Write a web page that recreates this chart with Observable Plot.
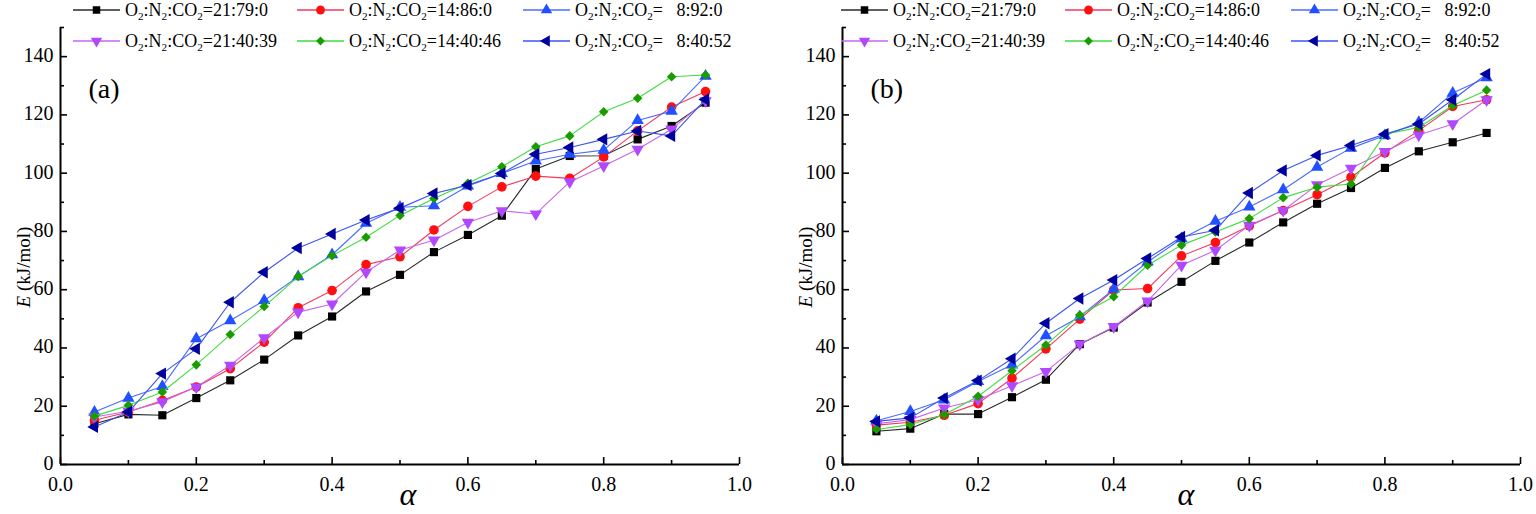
<!DOCTYPE html>
<html>
<head>
<meta charset="utf-8">
<script src="https://cdn.jsdelivr.net/npm/d3@7"></script>
<script src="https://cdn.jsdelivr.net/npm/@observablehq/plot@0.6"></script>
<style>
  html, body { margin: 0; padding: 0; background: #fff; }
  #root { position: relative; width: 1536px; height: 514px; overflow: hidden; font-family: "Liberation Serif", "Times New Roman", serif; }
  .panel { position: absolute; top: 0; }
  .panel svg text { font-family: "Liberation Serif", "Times New Roman", serif; }
  .leg { position: absolute; height: 24px; display: flex; align-items: center; white-space: pre; font-size: 18px; color: #000; line-height: 24px; }
  .leg svg { flex: none; margin-right: 5px; }
  .leg sub { font-size: 0.62em; vertical-align: -0.32em; line-height: 0; }
</style>
</head>
<body>
<div id="root"></div>
<script>
// ---------- data ----------
const alpha = [0.05,0.10,0.15,0.20,0.25,0.30,0.35,0.40,0.45,0.50,0.55,0.60,0.65,0.70,0.75,0.80,0.85,0.90,0.95];

// panel (a)
const a_21_79_0  = [14.0,17.2,16.9,22.8,28.9,36.0,44.3,50.8,59.4,65.1,72.9,78.8,85.4,101.4,105.9,106.0,111.6,116.2,124.2];
const a_14_86_0  = [15.2,18.0,22.0,26.6,32.9,42.0,53.8,59.7,68.6,71.3,80.5,88.6,95.3,99.0,98.2,105.6,114.5,122.7,128.0];
const a_8_92_0   = [18.0,22.8,26.8,43.2,49.4,56.3,64.5,72.0,82.8,88.3,88.8,95.6,99.9,104.2,106.5,107.9,118.1,121.3,133.3];
const a_21_40_39 = [16.3,18.3,21.5,26.6,34.0,43.5,52.3,55.1,66.0,73.6,77.0,83.1,87.1,86.0,97.0,102.5,108.2,115.1,124.8];
const a_14_40_46 = [16.6,20.3,24.9,34.2,44.6,54.2,64.5,71.7,78.0,85.5,91.3,96.5,102.2,109.1,112.8,121.1,125.7,133.1,133.7];
const a_8_40_52  = [12.9,18.0,31.2,39.7,55.7,66.0,74.3,79.1,83.9,88.0,93.0,95.9,99.9,106.5,108.8,111.6,114.5,112.8,125.3];

// panel (b)
const b_21_79_0  = [11.4,12.3,17.3,17.3,23.1,29.1,41.3,47.0,55.6,62.7,69.9,76.2,83.1,89.5,94.9,101.8,107.5,110.6,113.8];
const b_14_86_0  = [13.5,14.5,16.9,20.9,29.6,39.7,49.9,59.9,60.4,71.6,76.2,81.9,87.2,92.6,98.6,107.0,114.6,122.9,125.2];
const b_8_92_0   = [15.0,18.2,22.2,28.5,34.2,44.2,50.7,60.2,69.5,77.5,83.5,88.4,94.3,102.1,108.6,112.9,117.4,127.5,132.8];
const b_21_40_39 = [14.0,15.4,19.4,22.2,27.0,31.9,41.3,47.3,56.1,68.4,73.5,82.1,87.2,96.0,101.7,107.4,113.1,116.9,125.2];
const b_14_40_46 = [12.0,13.7,17.1,23.4,32.2,41.0,51.3,57.6,68.4,75.3,79.8,84.4,91.6,95.2,96.3,113.4,115.7,123.2,128.5];
const b_8_40_52  = [14.8,16.0,22.8,28.8,36.3,48.5,57.0,63.3,70.7,78.1,80.4,93.2,100.9,106.1,109.5,113.4,116.9,125.2,134.0];

const xMajorTicks = [0, 0.2, 0.4, 0.6, 0.8, 1.0];
const xMinorTicks = [0.1, 0.3, 0.5, 0.7, 0.9];
const yMajorTicks = [0, 20, 40, 60, 80, 100, 120, 140];
const yMinorTicks = [10, 30, 50, 70, 90, 110, 130, 150];

const legendLabels = ["=21:79:0", "=14:86:0", "=\u2007 8:92:0", "=21:40:39", "=14:40:46", "=\u2007 8:40:52"];

// ---------- styles ----------
function triangle(angle) {
  return {
    draw(ctx, size) {
      const s = Math.sqrt(size / (Math.sqrt(3) / 4));
      const R = s / Math.sqrt(3);
      for (let i = 0; i < 3; i++) {
        const a = angle + i * 2 * Math.PI / 3;
        const px = R * Math.sin(a), py = -R * Math.cos(a);
        if (i === 0) ctx.moveTo(px, py); else ctx.lineTo(px, py);
      }
      ctx.closePath();
    }
  };
}
const styles = [
  {marker: "#000000", line: "#2a2a2a", symbol: d3.symbolSquare, r: 4.6},
  {marker: "#ff1010", line: "#f2385e", symbol: d3.symbolCircle, r: 4.8},
  {marker: "#2050ff", line: "#4a6cff", symbol: triangle(0), r: 4.6},
  {marker: "#b048ff", line: "#c965ea", symbol: triangle(Math.PI), r: 4.6},
  {marker: "#1a9c00", line: "#3fdc3f", symbol: d3.symbolDiamond2, r: 4.3},
  {marker: "#00009e", line: "#3c55f0", symbol: triangle(-Math.PI / 2), r: 4.6}
];

const FONT = '"Liberation Serif", "Times New Roman", serif';
const W = 768, H = 514;

function makePanel(seriesArrays, opt) {
  const {ml, mr, mt, mb, tag} = opt;
  const fw = W - ml - mr, fh = H - mt - mb;
  const marks = [
    Plot.ruleX([0], {strokeWidth: 2, stroke: "#000"}),
    Plot.ruleY([0], {strokeWidth: 2, stroke: "#000"}),
    Plot.tickY(yMajorTicks, {y: d => d, insetRight: fw - 7, strokeWidth: 1.6, stroke: "#000"}),
    Plot.tickY(yMinorTicks, {y: d => d, insetRight: fw - 4, strokeWidth: 1.6, stroke: "#000"}),
    Plot.tickX(xMajorTicks, {x: d => d, insetTop: fh - 7, strokeWidth: 1.6, stroke: "#000"}),
    Plot.tickX(xMinorTicks, {x: d => d, insetTop: fh - 4, strokeWidth: 1.6, stroke: "#000"}),
    Plot.axisX({ticks: xMajorTicks, tickFormat: d3.format(".1f"), tickSize: 0, tickPadding: 12, label: null, fontSize: 20, fontFamily: FONT}),
    Plot.axisY({ticks: yMajorTicks, tickSize: 0, tickPadding: 7, dy: -1, label: null, fontSize: 20, fontFamily: FONT})
  ];
  seriesArrays.forEach((vals, i) => {
    const st = styles[i];
    const rows = alpha.map((x, j) => ({x, y: vals[j]}));
    marks.push(Plot.line(rows, {x: "x", y: "y", stroke: st.line, strokeWidth: 1.1}));
    marks.push(Plot.dot(rows, {x: "x", y: "y", symbol: st.symbol, r: st.r, fill: st.marker, stroke: "none"}));
  });
  marks.push(Plot.text([tag], {frameAnchor: "top-left", dx: 28, dy: 51, text: d => d, fontSize: 28, fontFamily: FONT, textAnchor: "start", fill: "#000"}));
  return Plot.plot({
    width: W, height: H,
    marginLeft: ml, marginRight: mr, marginTop: mt, marginBottom: mb,
    style: {fontFamily: FONT, fontSize: "20px", color: "#000", background: "#fff", overflow: "visible"},
    x: {domain: [0, 1]},
    y: {domain: [0, 150]},
    marks
  });
}

const root = document.getElementById("root");

const panels = [
  {series: [a_21_79_0, a_14_86_0, a_8_92_0, a_21_40_39, a_14_40_46, a_8_40_52], ml: 60, mr: 29, tag: "(a)", left: 0, ylabX: 30, xlabX: 408},
  {series: [b_21_79_0, b_14_86_0, b_8_92_0, b_21_40_39, b_14_40_46, b_8_40_52], ml: 74, mr: 16, tag: "(b)", left: 768, ylabX: 44, xlabX: 418}
];

panels.forEach(p => {
  const svg = makePanel(p.series, {ml: p.ml, mr: p.mr, mt: 27, mb: 50, tag: p.tag});
  const wrap = document.createElement("div");
  wrap.className = "panel";
  wrap.style.left = p.left + "px";
  wrap.appendChild(svg);
  root.appendChild(wrap);

  const s = d3.select(svg);
  const yt = s.append("text")
    .attr("transform", `translate(${p.ylabX},267) rotate(-90)`)
    .attr("text-anchor", "middle")
    .attr("font-family", FONT).attr("font-size", 19).attr("fill", "#000");
  yt.append("tspan").attr("font-style", "italic").text("E");
  yt.append("tspan").text(" (kJ/mol)");
  s.append("text")
    .attr("x", p.xlabX).attr("y", 505)
    .attr("text-anchor", "middle")
    .attr("font-family", FONT).attr("font-size", 32).attr("font-style", "italic").attr("fill", "#000")
    .text("\u03B1");

  const colX = [73, 297, 523], rowY = [10, 41];
  styles.forEach((st, i) => {
    const item = document.createElement("div");
    item.className = "leg";
    item.style.left = (p.left + colX[i % 3]) + "px";
    item.style.top = (rowY[Math.floor(i / 3)] - 12) + "px";
    const sw = d3.create("svg").attr("width", 47).attr("height", 24);
    sw.append("line").attr("x1", 0).attr("x2", 47).attr("y1", 12).attr("y2", 12)
      .attr("stroke", st.line).attr("stroke-width", 1.3);
    sw.append("path").attr("transform", "translate(23.5,12)")
      .attr("d", d3.symbol(st.symbol, Math.PI * st.r * st.r * 0.85)())
      .attr("fill", st.marker);
    item.appendChild(sw.node());
    const span = document.createElement("span");
    span.innerHTML = "O<sub>2</sub>:N<sub>2</sub>:CO<sub>2</sub>" + legendLabels[i];
    item.appendChild(span);
    root.appendChild(item);
  });
});
</script>
</body>
</html>
